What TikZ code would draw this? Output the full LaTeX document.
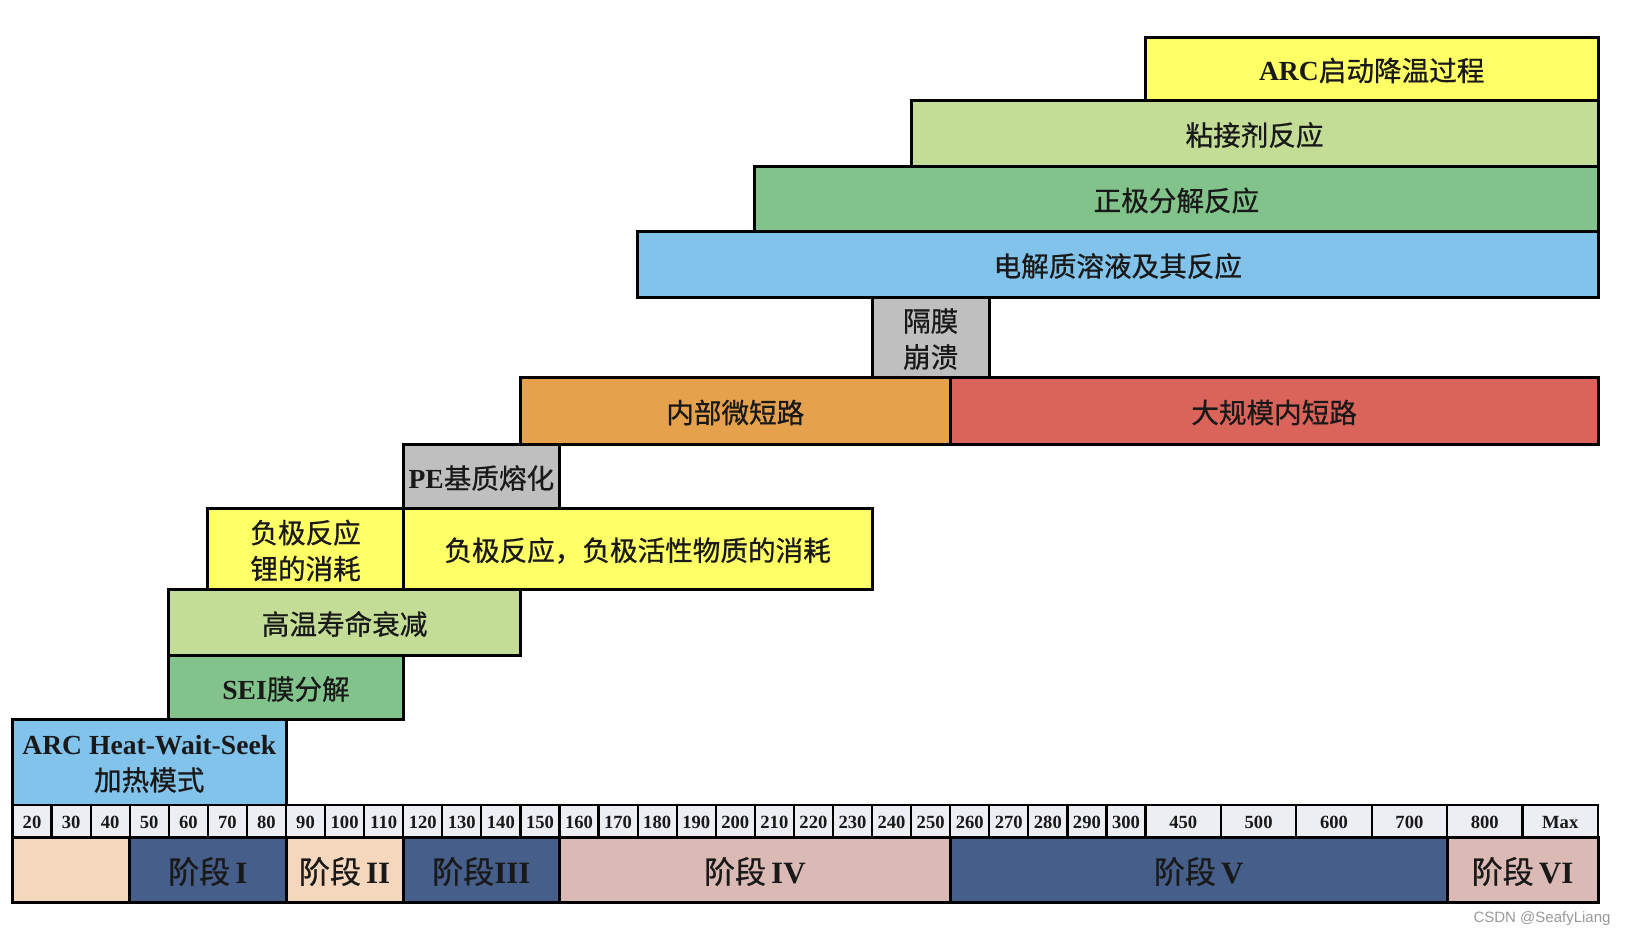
\documentclass[tikz,border=0pt]{standalone}
\usepackage{fontspec}
\setmainfont{Liberation Serif}
\newfontfamily\cjk{Noto Sans CJK SC}[FakeBold=0.7]
\newfontfamily\wmfont{Liberation Sans}

\definecolor{hwsblue}{HTML}{82C3EC}
\definecolor{seigreen}{HTML}{82C38C}
\definecolor{lifegreen}{HTML}{C3DC96}
\definecolor{anodeyellow}{HTML}{FFFF66}
\definecolor{pegray}{HTML}{BFBFBF}
\definecolor{microorange}{HTML}{E5A14B}
\definecolor{shortred}{HTML}{DA6459}
\definecolor{cellgray}{HTML}{ECEEF3}
\definecolor{stagepeach}{HTML}{F4D7BC}
\definecolor{stagenavy}{HTML}{465E8A}
\definecolor{stagepink}{HTML}{DBBAB6}

\newcommand\zh[1]{{\cjk\mdseries #1}}

\tikzset{
  box/.style={draw=black, line width=1.5pt},
  cell/.style={draw=black, line width=1.1pt, fill=cellgray},
  lbl/.style={font=\bfseries\fontsize{13.8}{17}\selectfont, align=center, text=black!90, inner sep=0pt, yshift=-1pt},
  numlbl/.style={font=\bfseries\fontsize{9.3}{10}\selectfont, text=black!90, inner sep=0pt, yshift=-0.8pt},
  stagelbl/.style={font=\bfseries\fontsize{15.5}{18}\selectfont, text=black!90, inner sep=0pt, yshift=-1pt}
}

\begin{document}
\begin{tikzpicture}[x=0.5pt, y=-0.5pt]
  \useasboundingbox (0,0) rectangle (1626,934);

  % Upper reactions
  \draw[box, fill=anodeyellow] (1145.5,37) rectangle (1598,100);
  \node[lbl] (arcdown) at (1371.75,68.5) {ARC\zh{启动降温过程}};
  \draw[box, fill=lifegreen] (911.1,100) rectangle (1598,166);
  \node[lbl] (binder) at (1254.55,133) {\zh{粘接剂反应}};
  \draw[box, fill=seigreen] (754.8,166) rectangle (1598,231);
  \node[lbl] (cathode) at (1176.4,198.5) {\zh{正极分解反应}};
  \draw[box, fill=hwsblue] (637.6,231) rectangle (1598,297);
  \node[lbl] (electrolyte) at (1117.8,264) {\zh{电解质溶液及其反应}};

  % Separator and short circuits
  \draw[box, fill=pegray] (872,297) rectangle (989.3,377);
  \node[lbl] (separator) at (930.65,337) {\zh{隔膜}\\[1pt]\zh{崩溃}};
  \draw[box, fill=microorange] (520.4,377) rectangle (950.2,444);
  \node[lbl] (microshort) at (735.3,410.5) {\zh{内部微短路}};
  \draw[box, fill=shortred] (950.2,377) rectangle (1598,444);
  \node[lbl] (massshort) at (1274.1,410.5) {\zh{大规模内短路}};
  \draw[box, fill=pegray] (403.2,444) rectangle (559.5,508);
  \node[lbl] (pemelt) at (481.35,476) {PE\zh{基质熔化}};

  % Anode side
  \draw[box, fill=anodeyellow] (207.9,508) rectangle (403.2,589);
  \node[lbl] (anodeli) at (305.55,548.5) {\zh{负极反应}\\[1pt]\zh{锂的消耗}};
  \draw[box, fill=anodeyellow] (403.2,508) rectangle (872,589);
  \node[lbl] (anodeact) at (637.6,548.5) {\zh{负极反应，负极活性物质的消耗}};
  \draw[box, fill=lifegreen] (168.8,589) rectangle (520.4,655);
  \node[lbl] (hightemp) at (344.6,622) {\zh{高温寿命衰减}};
  \draw[box, fill=seigreen] (168.8,655) rectangle (403.2,719);
  \node[lbl] (sei) at (286,687) {SEI\zh{膜分解}};
  \draw[box, fill=hwsblue] (12.5,719) rectangle (286,805);
  \node[lbl] (hws) at (149.25,762) {ARC Heat-Wait-Seek\\[1pt]\zh{加热模式}};

  % Temperature scale
  \foreach \t [count=\i from 0] in {20,30,...,300} {
    \draw[cell] ({12.5+39.07*\i},805) rectangle ({12.5+39.07*(\i+1)},837);
    \node[numlbl] (t\t) at ({12.5+39.07*(\i+0.5)},821) {\t};
  }
  \foreach \t [count=\i from 0] in {450,500,600,700,800,Max} {
    \draw[cell] ({1145.5+75.4*\i},805) rectangle ({1145.5+75.4*(\i+1)},837);
    \node[numlbl] (t\t) at ({1145.5+75.4*(\i+0.5)},821) {\t};
  }

  % Stages
  \draw[box, fill=stagepeach] (12.5,837) rectangle (129.7,902);
  \node[stagelbl] (s0) at (71.1,869.5) {};
  \draw[box, fill=stagenavy] (129.7,837) rectangle (286,902);
  \node[stagelbl] (s1) at (207.85,869.5) {\zh{阶段}\,I};
  \draw[box, fill=stagepeach] (286,837) rectangle (403.2,902);
  \node[stagelbl] (s2) at (344.6,869.5) {\zh{阶段}\,II};
  \draw[box, fill=stagenavy] (403.2,837) rectangle (559.5,902);
  \node[stagelbl] (s3) at (481.35,869.5) {\zh{阶段}III};
  \draw[box, fill=stagepink] (559.5,837) rectangle (950.2,902);
  \node[stagelbl] (s4) at (754.85,869.5) {\zh{阶段}\,IV};
  \draw[box, fill=stagenavy] (950.2,837) rectangle (1447.1,902);
  \node[stagelbl] (s5) at (1198.65,869.5) {\zh{阶段}\,V};
  \draw[box, fill=stagepink] (1447.1,837) rectangle (1598,902);
  \node[stagelbl] (s6) at (1522.55,869.5) {\zh{阶段}\,VI};

  % Watermark
  \node[font=\wmfont\fontsize{7.5}{9}\selectfont, text=black!40, inner sep=0pt] (wm) at (1542,919) {CSDN @SeafyLiang};
\end{tikzpicture}
\end{document}
